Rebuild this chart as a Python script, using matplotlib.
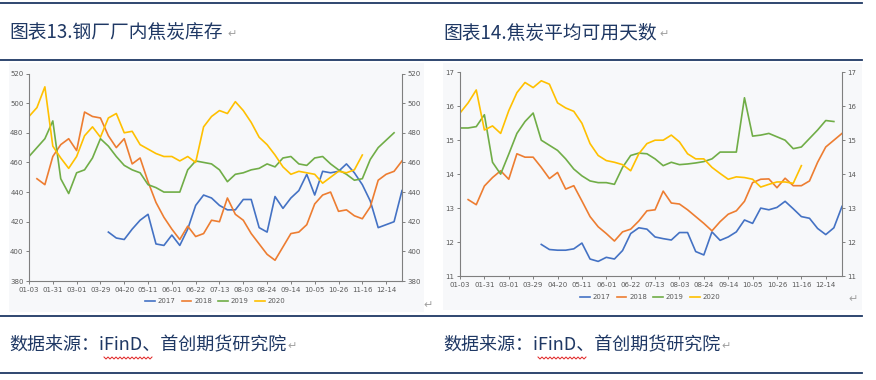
import numpy as np
import matplotlib
matplotlib.use('Agg')
import matplotlib.pyplot as plt
from matplotlib.patches import Rectangle
from matplotlib.lines import Line2D

# --- Settings ---
W, H = 876, 380
NAVY = '#1f3864'
GRAY_TXT = '#595959'
BG = '#f7f8fa'
COLORS = {'2017': '#4472c4', '2018': '#ed7d31', '2019': '#70ad47', '2020': '#ffc000'}
CJK = ['Noto Sans CJK SC', 'DejaVu Sans']

# --- Data (weekly categories, 48 points; None = no data) ---
tick_labels = ['01-03', '01-31', '03-01', '03-29', '04-20', '05-11', '06-01', '06-22',
               '07-13', '08-03', '08-24', '09-14', '10-05', '10-26', '11-16', '12-14']
years = ['2017', '2018', '2019', '2020']
N = 48

stock_2017 = [None] * 10 + [413, 409, 408, 415, 421, 425, 405, 404, 411, 404, 415, 431, 438, 436,
                            431, 428, 428, 435, 435, 416, 413, 437, 429, 436, 441, 452, 438, 454,
                            453, 454, 459, 453, 445, 434, 416, 418, 420, 441]
stock_2018 = [None] + [449, 445, 464, 472, 476, 468, 494, 491, 490, 478, 470, 476, 459, 463, 447,
                       433, 423, 415, 408, 417, 410, 412, 421, 420, 436, 425, 421, 412, 405, 398,
                       394, 403, 412, 413, 418, 432, 438, 440, 427, 428, 424, 422, 430, 448, 452,
                       454, 461]
stock_2019 = [464, 470, 476, 488, 449, 439, 453, 455, 463, 476, 471, 464, 458, 455, 453, 445, 443,
              440, 440, 440, 455, 461, 460, 459, 455, 447, 452, 453, 455, 456, 459, 457, 463, 464,
              459, 458, 463, 464, 459, 455, 452, 448, 449, 462, 470, 475, 480, None]
stock_2020 = [491, 497, 511, 471, 463, 456, 464, 478, 484, 477, 490, 493, 480, 481, 472, 469, 466,
              464, 464, 461, 464, 460, 484, 491, 495, 493, 501, 495, 487, 477, 472, 465, 457, 452,
              454, 453, 452, 446, 450, 454, 453, 455, 465] + [None] * 5

days_2017 = [None] * 10 + [11.93, 11.78, 11.76, 11.76, 11.8, 11.97, 11.5, 11.43, 11.55, 11.5,
                           11.75, 12.25, 12.42, 12.38, 12.15, 12.1, 12.06, 12.28, 12.28, 11.72,
                           11.62, 12.3, 12.05, 12.15, 12.3, 12.65, 12.55, 13.0, 12.95, 13.02,
                           13.2, 12.98, 12.75, 12.7, 12.4, 12.22, 12.42, 13.05]
days_2018 = [None] + [13.25, 13.1, 13.65, 13.9, 14.1, 13.85, 14.6, 14.5, 14.5, 14.2, 13.87, 14.05,
                      13.56, 13.66, 13.21, 12.75, 12.45, 12.25, 12.03, 12.3, 12.38, 12.62, 12.92,
                      12.95, 13.5, 13.15, 13.12, 12.95, 12.75, 12.55, 12.33, 12.6, 12.82, 12.92,
                      13.2, 13.75, 13.85, 13.86, 13.6, 13.88, 13.66, 13.66, 13.8, 14.35, 14.8,
                      15.0, 15.2]
days_2019 = [15.36, 15.36, 15.4, 15.75, 14.35, 14.0, 14.59, 15.2, 15.55, 15.8, 15.0, 14.85, 14.7,
             14.45, 14.15, 13.95, 13.8, 13.75, 13.75, 13.7, 14.2, 14.55, 14.62, 14.6, 14.45,
             14.25, 14.35, 14.28, 14.3, 14.33, 14.37, 14.45, 14.65, 14.65, 14.65, 16.25, 15.12,
             15.15, 15.2, 15.1, 15.0, 14.75, 14.8, 15.05, 15.3, 15.58, 15.55, None]
days_2020 = [15.8, 16.1, 16.48, 15.3, 15.42, 15.2, 15.87, 16.4, 16.7, 16.55, 16.75, 16.65, 16.1,
             15.95, 15.85, 15.5, 14.9, 14.55, 14.4, 14.35, 14.28, 14.1, 14.6, 14.9, 15.0, 15.0,
             15.15, 14.95, 14.6, 14.45, 14.45, 14.2, 14.02, 13.85, 13.92, 13.9, 13.85, 13.62,
             13.7, 13.77, 13.77, 13.73, 14.25] + [None] * 5


def arr(values):
    return np.array([np.nan if v is None else v for v in values], dtype=float)


def fig_rect(x0, y0, x1, y1):
    """Pixel box (top-left origin) -> figure fraction rect."""
    return [x0 / W, 1 - y1 / H, (x1 - x0) / W, (y1 - y0) / H]


def fx(x):
    return x / W


def fy(y):
    return 1 - y / H


fig = plt.figure(figsize=(W / 100, H / 100), dpi=100)
fig.patch.set_facecolor('white')

# --- Frame lines, panels ---
for yy in (3, 60, 316, 373):
    fig.add_artist(Line2D([0, fx(862)], [fy(yy), fy(yy)], color=NAVY, lw=1.3))

fig.add_artist(Rectangle((fx(9), fy(312)), fx(424) - fx(9), fy(63) - fy(312),
                         transform=fig.transFigure, facecolor=BG, edgecolor='none', zorder=0))
fig.add_artist(Rectangle((fx(443), fy(310)), fx(862) - fx(443), fy(63) - fy(310),
                         transform=fig.transFigure, facecolor=BG, edgecolor='none', zorder=0))


def draw_chart(rect, series, ylim, yticks, legend_xy):
    ax = fig.add_axes(rect)
    ax.set_facecolor(BG)
    x = np.arange(N)
    for yr, vals in zip(years, series):
        ax.plot(x, arr(vals), color=COLORS[yr], lw=1.2, label=yr, solid_joinstyle='round')
    ax.set_xlim(0, N - 1)
    ax.set_ylim(*ylim)
    ax.set_yticks(yticks)
    ax.set_xticks(np.arange(0, len(tick_labels) * 3, 3))
    ax.set_xticklabels(tick_labels)
    for s in ('left', 'right', 'bottom'):
        ax.spines[s].set_color('#7f7f7f')
        ax.spines[s].set_linewidth(0.8)
    ax.spines['top'].set_visible(False)
    ax.tick_params(axis='both', labelsize=5, colors='#7f7f7f', labelcolor=GRAY_TXT,
                   length=2.5, width=0.7, pad=1.5)
    ax.tick_params(axis='y', left=True, right=True, labelleft=True, labelright=True)
    leg = ax.legend(loc='center', bbox_to_anchor=legend_xy, bbox_transform=fig.transFigure,
                    ncol=4, frameon=False, fontsize=5, handlelength=1.4, handletextpad=0.4,
                    columnspacing=0.9)
    for t in leg.get_texts():
        t.set_color(GRAY_TXT)
    return ax


draw_chart(fig_rect(29, 73.5, 402, 281), [stock_2017, stock_2018, stock_2019, stock_2020],
           (380, 520), np.arange(380, 521, 20), (fx(215), fy(301)))
draw_chart(fig_rect(460, 72.3, 842, 276), [days_2017, days_2018, days_2019, days_2020],
           (11, 17), np.arange(11, 18, 1), (fx(650), fy(297)))

# --- Titles and source lines ---
titles = [(9, '图表13.钢厂厂内焦炭库存'), (443, '图表14.焦炭平均可用天数')]
for x0, txt in titles:
    t = fig.text(fx(x0), fy(33), txt, fontsize=13.5, color=NAVY, family=CJK, va='center', ha='left')

src = '数据来源：iFinD、首创期货研究院'
for x0 in (9, 443):
    fig.text(fx(x0), fy(345), src, fontsize=13, color=NAVY, family=CJK, va='center', ha='left')

# paragraph marks
for xx, yy in ((232, 34), (664, 34), (292, 346), (726, 346), (428, 305), (853, 299)):
    fig.text(fx(xx), fy(yy), '↵', fontsize=8, color='#a0a0a0', family=['DejaVu Sans'],
             va='center', ha='center')

# red wavy spell-check underline under "iFinD"
for x0 in (104, 538):
    wx = np.arange(x0, x0 + 49, 2.0)
    wy = 358 + np.where(np.arange(len(wx)) % 2 == 0, -1.0, 1.0)
    fig.add_artist(Line2D(fx(wx), fy(wy), color='#e02020', lw=0.7))

fig.savefig('out.png', dpi=100, facecolor='white')
